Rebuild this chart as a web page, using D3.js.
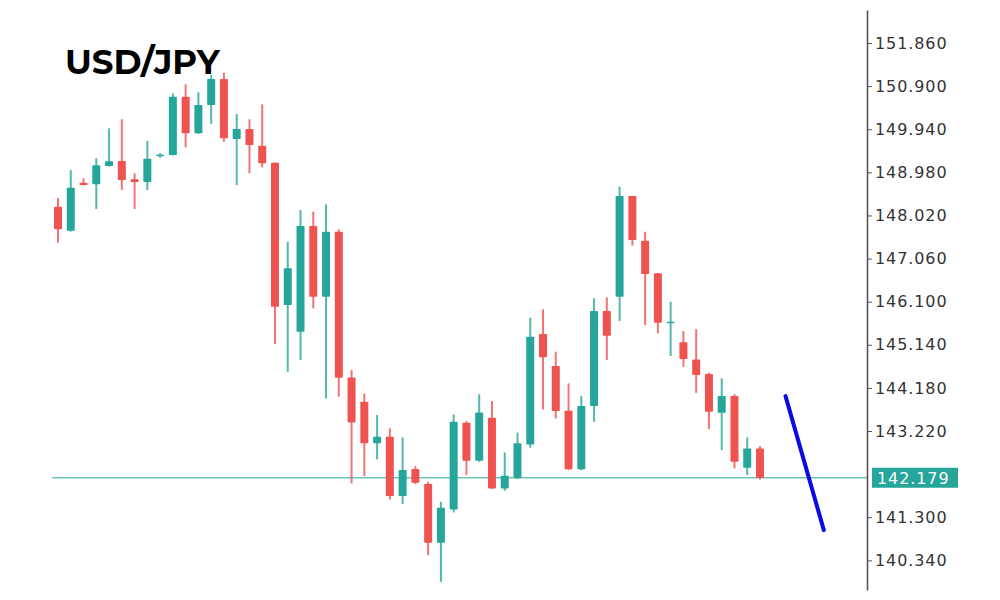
<!DOCTYPE html>
<html>
<head>
<meta charset="utf-8">
<script src="https://cdn.jsdelivr.net/npm/d3@7"></script>
<style>
  html, body { margin: 0; padding: 0; background: #ffffff; }
  svg { display: block; }
</style>
</head>
<body>
<svg id="chart" width="1000" height="600"></svg>
<script>
// ---- Data ----
const title = "USD/JPY";
const opens  = [148.214,147.680,148.749,148.713,149.121,149.232,148.824,148.764,149.337,149.366,
                150.664,149.849,150.479,151.058,149.722,149.945,149.573,149.194,146.025,145.430,
                147.784,146.210,147.657,144.414,143.871,142.945,143.092,141.771,142.372,142.038,
                140.731,141.475,143.403,142.557,143.515,141.942,142.172,142.922,145.379,144.666,
                143.671,142.366,143.775,145.891,146.210,148.452,147.457,146.731,145.631,145.194,
                144.815,144.488,143.626,143.998,142.401,142.833];
const highs  = [148.408,149.031,148.847,149.292,149.960,150.161,148.958,149.677,149.410,150.740,
                150.940,150.762,151.147,151.199,150.279,150.161,150.495,149.200,147.435,148.141,
                148.103,148.268,147.711,144.577,144.058,143.575,143.279,143.078,142.439,142.089,
                141.644,143.590,143.440,144.036,143.887,142.744,143.185,145.742,145.929,144.985,
                144.281,143.998,146.174,146.196,148.660,148.452,147.657,146.740,146.098,145.446,
                145.490,144.520,144.392,144.040,143.078,142.884];
const lows   = [147.412,147.660,148.690,148.163,149.110,148.586,148.163,148.586,149.310,149.355,
                149.537,149.833,150.056,149.662,148.697,148.958,149.092,145.156,144.539,144.800,
                145.951,143.947,143.982,142.054,142.216,142.588,141.697,141.593,142.038,140.457,
                139.862,141.408,142.239,142.535,141.930,141.889,142.150,142.847,143.702,143.501,
                142.350,142.350,143.426,144.800,145.668,147.350,145.579,145.394,144.889,144.650,
                144.071,143.263,142.795,142.388,142.239,142.140];
const closes = [147.711,148.637,148.697,149.136,149.225,148.809,148.764,149.283,149.372,150.664,
                149.849,150.479,151.058,149.737,149.945,149.588,149.181,145.987,146.842,147.784,
                146.210,147.657,144.406,143.412,142.945,143.092,141.771,142.350,142.067,140.731,
                141.510,143.426,142.557,143.635,141.942,142.223,142.945,145.319,144.860,143.664,
                142.366,143.775,145.891,145.341,148.452,147.472,146.715,145.631,145.653,144.822,
                144.466,143.648,143.998,142.535,142.833,142.179];
const tickLabels = ["151.860","150.900","149.940","148.980","148.020","147.060",
                    "146.100","145.140","144.180","143.220","141.300","140.340"];
const currentPrice = 142.179;
const forecastIdx   = [57, 60];
const forecastPrice = [143.998, 141.014];

// ---- Layout ----
const svg = d3.select("#chart");
const axisX = 867;
const x = d3.scaleLinear().domain([0, opens.length - 1]).range([58, 760]);
const y = d3.scaleLinear().domain([139.68, 152.595]).range([590, 10]);

const UP = "#26a69a", DOWN = "#ef5350";
const candles = opens.map((o, i) => ({ i, o, h: highs[i], l: lows[i], c: closes[i] }));

// current price line
svg.append("line")
  .attr("x1", 52).attr("x2", axisX)
  .attr("y1", y(currentPrice)).attr("y2", y(currentPrice))
  .attr("stroke", "#6cc5b8").attr("stroke-width", 1.6);

const g = svg.append("g");
const cg = g.selectAll("g.candle").data(candles).join("g").attr("class", "candle");
cg.append("line")
  .attr("x1", d => x(d.i)).attr("x2", d => x(d.i))
  .attr("y1", d => y(d.h)).attr("y2", d => y(d.l))
  .attr("stroke", d => d.c >= d.o ? UP : DOWN)
  .attr("stroke-opacity", 0.8)
  .attr("stroke-width", 2);
cg.append("rect")
  .attr("x", d => x(d.i) - 4)
  .attr("width", 8)
  .attr("y", d => y(Math.max(d.o, d.c)))
  .attr("height", d => Math.max(1.5, Math.abs(y(d.o) - y(d.c))))
  .attr("rx", 0.8)
  .attr("fill", d => d.c >= d.o ? UP : DOWN);

// forecast line
svg.append("line")
  .attr("x1", x(forecastIdx[0])).attr("y1", y(forecastPrice[0]))
  .attr("x2", x(forecastIdx[1])).attr("y2", y(forecastPrice[1]))
  .attr("stroke", "#0a0ae6").attr("stroke-width", 4).attr("stroke-linecap", "round");

// right axis
const axis = d3.axisRight(y)
  .tickValues(tickLabels.map(Number))
  .tickFormat(d3.format(".3f"))
  .tickSizeInner(5).tickSizeOuter(0).tickPadding(3);
const ag = svg.append("g").attr("transform", `translate(${axisX},0)`).call(axis);
ag.select(".domain").attr("stroke", "#555").attr("stroke-width", 1.6);
ag.selectAll(".tick line").attr("stroke", "#555");
ag.selectAll(".tick text")
  .attr("fill", "#333")
  .style("font-family", "'DejaVu Sans', Verdana, sans-serif")
  .style("font-size", "16px")
  .style("letter-spacing", "0.9px");

// current price tag
const tag = svg.append("g").attr("transform", `translate(${axisX + 5},${y(currentPrice)})`);
tag.append("rect").attr("x", 0).attr("y", -10).attr("width", 86).attr("height", 20).attr("fill", "#26a69a");
tag.append("text").attr("x", 5).attr("y", 0).attr("dy", "0.36em")
  .attr("fill", "#fff")
  .style("font-family", "'DejaVu Sans', Verdana, sans-serif")
  .style("font-size", "16px").style("letter-spacing", "0.9px")
  .text(d3.format(".3f")(currentPrice));

// title
svg.append("text")
  .attr("x", 65).attr("y", 74)
  .style("font-family", "Montserrat, 'Open Sans', sans-serif")
  .style("font-weight", 700).style("font-size", "34px")
  .attr("fill", "#000")
  .text(title);
</script>
</body>
</html>
